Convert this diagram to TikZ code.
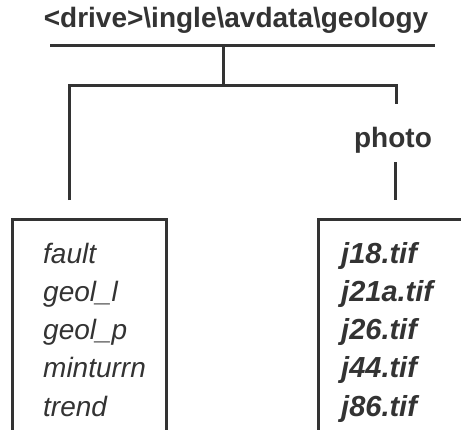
\documentclass[tikz,border=0pt]{standalone}
\usepackage{fontspec}
\setmainfont{Liberation Sans}
\definecolor{ink}{gray}{0.2}
\tikzset{
  line/.style={draw=ink, line width=3pt},
  boxline/.style={draw=ink, line width=2.8pt},
  head/.style={font=\bfseries\fontsize{28}{30}\selectfont, text=ink, inner sep=0pt, anchor=base},
  item/.style={font=\itshape\fontsize{28}{30}\selectfont, text=ink, inner sep=0pt, anchor=base west},
  bitem/.style={font=\bfseries\itshape\fontsize{29}{30}\selectfont, text=ink, inner sep=0pt, anchor=base west},
}
\begin{document}
\begin{tikzpicture}[x=1pt,y=-1pt]
\clip (0,0) rectangle (461,429);
\fill[white] (0,0) rectangle (461,429);
% title
\node[head] (title) at (236,27) {<drive>\textbackslash ingle\textbackslash avdata\textbackslash geology};
\coordinate (rw) at (50,45);
\coordinate (re) at (435,45);
\coordinate (rm) at (223,45);
\coordinate (jm) at (223,85);
\coordinate (jl) at (69,85);
\coordinate (jr) at (396,85);
\coordinate (dl) at (69,200);
\coordinate (dr) at (396,104);
\draw[line] (rw) -- (re);
\draw[line] (rm) -- (jm);
\draw[line] (dl) -- (jl) -- (jr) -- (dr);
% photo
\node[head] (photo) at (393,147) {photo};
\coordinate (ps) at (395,162);
\coordinate (pe) at (395,200);
\draw[line] (ps) -- (pe);
% boxes
\node[boxline, rectangle, minimum width=154pt, minimum height=260pt, anchor=north west, inner sep=0pt] (lbox) at (11,218) {};
\node[boxline, rectangle, minimum width=160pt, minimum height=260pt, anchor=north west, inner sep=0pt] (rbox) at (317,218) {};
% left list
\node[item] (l1) at (43,263) {fault};
\node[item] (l2) at (43,301) {geol\_l};
\node[item] (l3) at (43,339) {geol\_p};
\node[item] (l4) at (43,377) {minturrn};
\node[item] (l5) at (43,416) {trend};
% right list
\node[bitem] (r1) at (341,263) {j18.tif};
\node[bitem] (r2) at (341,301) {j21a.tif};
\node[bitem] (r3) at (341,339) {j26.tif};
\node[bitem] (r4) at (341,377) {j44.tif};
\node[bitem] (r5) at (341,416) {j86.tif};
\end{tikzpicture}
\end{document}
